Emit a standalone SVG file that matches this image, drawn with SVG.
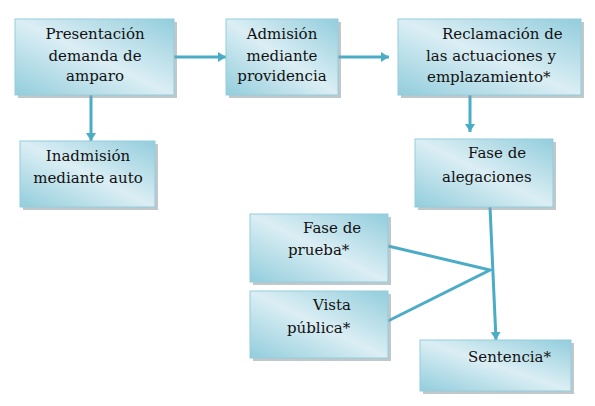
<svg xmlns="http://www.w3.org/2000/svg" width="595" height="406" viewBox="0 0 595 406">
<style>
.box{fill:url(#g);stroke:#93cddd;stroke-width:1}
.sh{fill:#8c9ba0;opacity:0.55}
.t{font-family:"DejaVu Serif","Liberation Serif",serif;font-size:15px;fill:#111}
.c{text-anchor:middle}
.ln{stroke:#4bacc6;stroke-width:3;fill:none}
</style>
<defs>
<linearGradient id="g" x1="1" y1="0" x2="0" y2="1">
<stop offset="0" stop-color="#92cddc"/>
<stop offset="0.5" stop-color="#dbeef4"/>
<stop offset="1" stop-color="#92cddc"/>
</linearGradient>
<marker id="a" markerUnits="userSpaceOnUse" markerWidth="9" markerHeight="11" refX="8" refY="5" orient="auto">
<path d="M0,0 L8,5 L0,10 z" fill="#4bacc6"/>
</marker>
</defs>
<g id="connectors">
<line class="ln" x1="174" y1="57" x2="226" y2="57" marker-end="url(#a)"/>
<line class="ln" x1="338" y1="57" x2="389" y2="57" marker-end="url(#a)"/>
<line class="ln" x1="91" y1="95" x2="91" y2="141" marker-end="url(#a)"/>
<line class="ln" x1="470" y1="95" x2="470" y2="132" marker-end="url(#a)"/>
<line class="ln" x1="490" y1="207" x2="496" y2="340" marker-end="url(#a)"/>
<polyline class="ln" points="388,246 490,270 388,321"/>
</g>
<g id="n1">
<rect class="sh" x="18" y="22" width="159" height="76"/>
<rect class="box" x="15" y="19" width="159" height="76"/>
<text class="t c" x="95" y="39">Presentación</text>
<text class="t c" x="95" y="61">demanda de</text>
<text class="t c" x="95" y="81">amparo</text>
</g>
<g id="n2">
<rect class="sh" x="229" y="22" width="112" height="76"/>
<rect class="box" x="226" y="19" width="112" height="76"/>
<text class="t c" x="282" y="39">Admisión</text>
<text class="t c" x="282" y="61">mediante</text>
<text class="t c" x="282" y="81">providencia</text>
</g>
<g id="n3">
<rect class="sh" x="401" y="22" width="183" height="76"/>
<rect class="box" x="398" y="19" width="183" height="76"/>
<text class="t" x="442" y="39">Reclamación de</text>
<text class="t" x="426" y="61">las actuaciones y</text>
<text class="t" x="427" y="82">emplazamiento*</text>
</g>
<g id="n4">
<rect class="sh" x="23" y="144" width="135" height="66"/>
<rect class="box" x="20" y="141" width="135" height="66"/>
<text class="t c" x="88" y="161">Inadmisión</text>
<text class="t c" x="88" y="183">mediante auto</text>
</g>
<g id="n5">
<rect class="sh" x="418" y="142" width="138" height="68"/>
<rect class="box" x="415" y="139" width="138" height="68"/>
<text class="t" x="468" y="158">Fase de</text>
<text class="t" x="442" y="182">alegaciones</text>
</g>
<g id="n6">
<rect class="sh" x="253" y="217" width="138" height="68"/>
<rect class="box" x="250" y="214" width="138" height="68"/>
<text class="t" x="303" y="233">Fase de</text>
<text class="t" x="288" y="255">prueba*</text>
</g>
<g id="n7">
<rect class="sh" x="253" y="294" width="138" height="67"/>
<rect class="box" x="250" y="291" width="138" height="67"/>
<text class="t" x="313" y="310">Vista</text>
<text class="t" x="287" y="333">pública*</text>
</g>
<g id="n8">
<rect class="sh" x="423" y="343" width="151" height="51"/>
<rect class="box" x="420" y="340" width="151" height="51"/>
<text class="t" x="468" y="362">Sentencia*</text>
</g>
</svg>
